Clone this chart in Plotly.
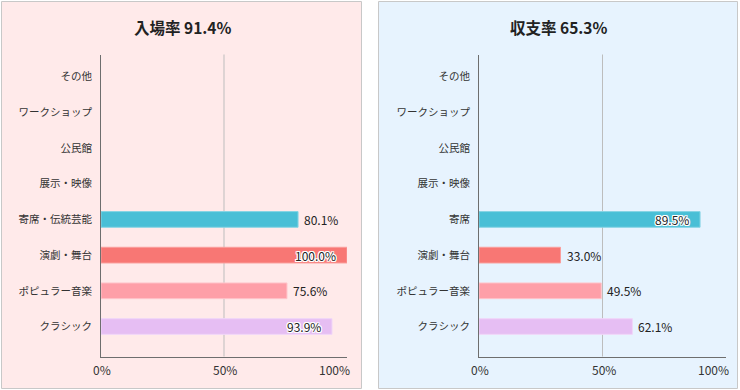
import plotly.graph_objects as go

# ---- data ----
categories = ["クラシック", "ポピュラー音楽", "演劇・舞台", "寄席・伝統芸能", "展示・映像", "公民館", "ワークショップ", "その他"]
categories_right = ["クラシック", "ポピュラー音楽", "演劇・舞台", "寄席", "展示・映像", "公民館", "ワークショップ", "その他"]
attendance_values = [93.9, 75.6, 100.0, 80.1, None, None, None, None]
balance_values = [62.1, 49.5, 33.0, 89.5, None, None, None, None]
title_left = "入場率 91.4%"
title_right = "収支率 65.3%"
x_tickvals = [0, 50, 100]
x_ticktext = ["0%", "50%", "100%"]

# ---- styles ----
bar_colors = ["#E6BEF3", "#FE9FA8", "#F87774", "#49BFD6", "#cccccc", "#cccccc", "#cccccc", "#cccccc"]
bar_edges = ["#F0D6F8", "#FFC4CA", "#FA9E9C", "#86D4E4", "#dddddd", "#dddddd", "#dddddd", "#dddddd"]
FONT = "Noto Sans CJK JP, Noto Sans, sans-serif"
W, H = 740, 390

def px(x):
    return x / W

def py(y):
    return 1 - y / H

fig = go.Figure()

for vals, cats, xa, ya in [(attendance_values, categories, "x", "y"),
                           (balance_values, categories_right, "x2", "y2")]:
    fig.add_trace(go.Bar(
        x=vals, y=cats, orientation="h", xaxis=xa, yaxis=ya,
        marker=dict(color=bar_colors, line=dict(color=bar_edges, width=1)),
        width=0.44, hoverinfo="x+y", showlegend=False,
    ))

# panels
shapes = []
for x0, x1, bg in [(1.5, 361.5, "#FFEAEA"), (378.5, 737.5, "#E7F3FE")]:
    shapes.append(dict(type="rect", xref="paper", yref="paper",
                       x0=px(x0), x1=px(x1), y0=py(388.5), y1=py(1.5),
                       fillcolor=bg, line=dict(color="#C8C8C8", width=1), layer="below"))
# 50% grid lines
for xr, yr in [("x", "y domain"), ("x2", "y2 domain")]:
    shapes.append(dict(type="line", xref=xr, yref=yr, x0=50, x1=50, y0=0, y1=1,
                       line=dict(color="#BDBDBD", width=1), layer="below"))

annotations = []
for title, cx in [(title_left, 182), (title_right, 558)]:
    annotations.append(dict(text=title, xref="paper", yref="paper", x=px(cx), y=py(27),
                            showarrow=False, xanchor="center", yanchor="middle",
                            font=dict(family=FONT, size=15.5, color="#222222", weight="bold")))

# x tick labels (last one pulled inside the panel)
for xr in ["x", "x2"]:
    for i, (tv, tt) in enumerate(zip(x_tickvals, x_ticktext)):
        last = i == len(x_tickvals) - 1
        annotations.append(dict(text=tt, x=tv, xref=xr, y=py(369), yref="paper",
                                showarrow=False, yanchor="middle",
                                xanchor="right" if last else "center",
                                xshift=5 if last else 1,
                                font=dict(family=FONT, size=12, color="#333333")))

halo = "1px 1px 0 #fff, -1px -1px 0 #fff, 1px -1px 0 #fff, -1px 1px 0 #fff, 0 1px 0 #fff, 0 -1px 0 #fff, 1px 0 0 #fff, -1px 0 0 #fff"
for vals, cats, xr, yr in [(attendance_values, categories, "x", "y"),
                           (balance_values, categories_right, "x2", "y2")]:
    for v, c in zip(vals, cats):
        if v is None:
            continue
        inside = v >= 85
        annotations.append(dict(
            text=f"{v:.1f}%", x=v, y=c, xref=xr, yref=yr, showarrow=False,
            xanchor="right" if inside else "left", xshift=-9 if inside else 4,
            yanchor="middle",
            font=dict(family=FONT, size=12, color="#222222", shadow=halo if inside else "none"),
        ))

xaxis_common = dict(range=[0, 100], tickvals=x_tickvals, showticklabels=False, showgrid=False,
                    zeroline=False, showline=True, linecolor="#6E6E6E", linewidth=1, ticks="",
                    fixedrange=True)
yaxis_common = dict(type="category", range=[-0.84, 7.62], showgrid=False, zeroline=False,
                    showline=True, linecolor="#6E6E6E", linewidth=1, ticks="",
                    ticklabelstandoff=6,
                    tickfont=dict(family=FONT, size=10.5, color="#333333"), fixedrange=True)

dom_y = [py(356.5), py(54.5)]
fig.update_layout(
    width=W, height=H, margin=dict(l=0, r=0, t=0, b=0, autoexpand=False),
    paper_bgcolor="white", plot_bgcolor="white",
    xaxis={**xaxis_common, "domain": [px(101), px(347)], "anchor": "y"},
    yaxis={**yaxis_common, "domain": dom_y, "anchor": "x",
           "categoryorder": "array", "categoryarray": categories},
    xaxis2={**xaxis_common, "domain": [px(479), px(726)], "anchor": "y2"},
    yaxis2={**yaxis_common, "domain": dom_y, "anchor": "x2",
            "categoryorder": "array", "categoryarray": categories_right},
    shapes=shapes, annotations=annotations, bargap=0.5,
)

fig.write_html("out.html", config={"displayModeBar": False},
               post_script="document.body.style.margin='0';document.body.style.overflow='hidden';")
